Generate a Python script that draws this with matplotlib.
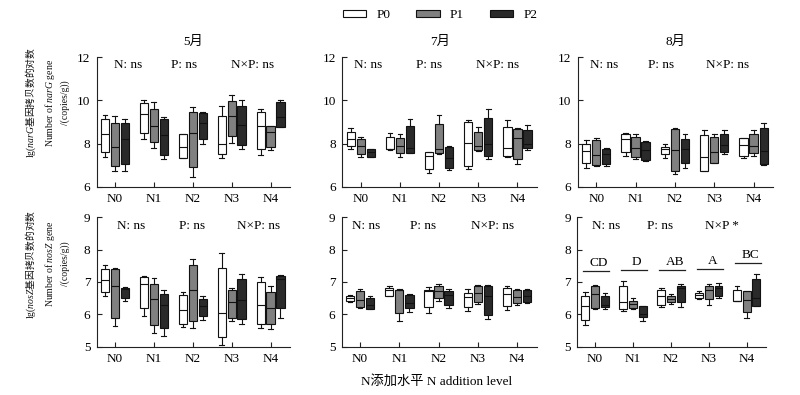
import matplotlib
matplotlib.use("Agg")
import matplotlib.pyplot as plt
from matplotlib.patches import Patch

plt.rcParams['font.family'] = ['Liberation Serif', 'Noto Sans CJK SC']
plt.rcParams['mathtext.fontset'] = 'custom'
plt.rcParams['mathtext.it'] = 'Liberation Serif:italic'
plt.rcParams['mathtext.rm'] = 'Noto Sans CJK SC'

# ---------------- data ----------------
groups = ["N0", "N1", "N2", "N3", "N4"]
p_levels = ["P0", "P1", "P2"]
months = ["5月", "7月", "8月"]

# each entry: [whisker low, Q1, median, Q3, whisker high]
narG_may_P0 = [[7.39, 7.60, 8.46, 9.16, 9.33], [8.21, 8.48, 9.36, 9.87, 10.00], [7.32, 7.33, 7.86, 8.44, 8.45], [7.33, 7.50, 7.97, 9.28, 9.76], [7.46, 7.73, 8.82, 9.48, 9.62]]
narG_may_P1 = [[6.74, 6.98, 7.83, 8.94, 9.30], [7.78, 8.06, 8.83, 9.62, 9.91], [6.47, 6.93, 8.48, 9.45, 9.71], [8.01, 8.35, 9.28, 9.98, 10.24], [7.69, 7.86, 8.52, 8.82, 8.83]]
narG_may_P2 = [[6.71, 7.05, 8.23, 8.97, 9.14], [7.29, 7.47, 8.38, 9.13, 9.25], [7.98, 8.20, 8.97, 9.40, 9.45], [7.73, 7.95, 8.85, 9.76, 10.00], [8.76, 8.76, 9.22, 9.91, 10.02]]

narG_jul_P0 = [[7.75, 7.89, 8.21, 8.55, 8.71], [7.72, 7.73, 7.76, 8.29, 8.51], [6.62, 6.80, 7.44, 7.59, 7.60], [6.80, 6.96, 8.01, 9.02, 9.09], [7.36, 7.42, 7.78, 8.78, 9.09]]
narG_jul_P1 = [[7.36, 7.52, 7.87, 8.20, 8.32], [7.39, 7.55, 7.87, 8.26, 8.43], [7.52, 7.55, 7.73, 8.91, 9.32], [7.66, 7.70, 7.89, 8.55, 8.75], [7.05, 7.28, 8.24, 8.66, 8.71]]
narG_jul_P2 = [[7.36, 7.39, 7.62, 7.75, 7.77], [7.56, 7.58, 7.78, 8.80, 9.14], [6.77, 6.85, 7.35, 7.83, 7.89], [7.27, 7.44, 7.98, 9.20, 9.59], [7.70, 7.78, 7.98, 8.63, 8.85]]

narG_aug_P0 = [[6.86, 7.08, 7.66, 8.00, 8.15], [7.43, 7.63, 8.20, 8.46, 8.51], [7.35, 7.51, 7.74, 7.85, 8.00], [6.71, 6.74, 7.38, 8.38, 8.62], [7.32, 7.43, 7.94, 8.25, 8.28]]
narG_aug_P1 = [[6.97, 7.00, 7.48, 8.15, 8.28], [7.29, 7.38, 7.78, 8.31, 8.43], [6.58, 6.71, 7.69, 8.66, 8.71], [7.09, 7.12, 7.62, 8.32, 8.46], [7.43, 7.54, 7.89, 8.43, 8.62]]
narG_aug_P2 = [[6.95, 7.05, 7.51, 7.74, 7.78], [7.20, 7.25, 7.71, 8.06, 8.12], [6.86, 7.09, 7.74, 8.23, 8.43], [7.51, 7.62, 7.94, 8.43, 8.62], [7.00, 7.05, 7.66, 8.71, 8.97]]

nosZ_may_P0 = [[6.58, 6.68, 7.06, 7.41, 7.52], [5.96, 6.19, 6.95, 7.15, 7.18], [5.60, 5.70, 6.14, 6.59, 6.68], [5.05, 5.29, 6.04, 7.44, 7.91], [5.57, 5.71, 6.29, 6.99, 7.16]]
nosZ_may_P1 = [[5.64, 5.88, 6.89, 7.41, 7.44], [5.42, 5.68, 6.48, 6.95, 7.11], [5.57, 5.78, 6.75, 7.52, 7.70], [5.78, 5.90, 6.38, 6.74, 6.82], [5.54, 5.71, 6.19, 6.69, 6.87]]
nosZ_may_P2 = [[6.40, 6.49, 6.78, 6.82, 6.84], [5.33, 5.57, 6.29, 6.63, 6.75], [5.81, 5.94, 6.25, 6.48, 6.56], [5.70, 5.85, 6.45, 7.08, 7.25], [5.90, 6.19, 7.08, 7.18, 7.20]]

nosZ_jul_P0 = [[6.38, 6.42, 6.50, 6.56, 6.59], [6.56, 6.57, 6.74, 6.82, 6.87], [6.03, 6.21, 6.72, 6.76, 6.83], [6.10, 6.21, 6.54, 6.66, 6.79], [6.13, 6.25, 6.62, 6.82, 6.89]]
nosZ_jul_P1 = [[6.18, 6.21, 6.44, 6.72, 6.79], [5.80, 6.05, 6.74, 6.76, 6.77], [6.41, 6.49, 6.72, 6.87, 6.93], [6.31, 6.38, 6.66, 6.87, 6.90], [6.28, 6.35, 6.54, 6.76, 6.79]]
nosZ_jul_P2 = [[6.15, 6.16, 6.30, 6.51, 6.57], [6.08, 6.20, 6.35, 6.61, 6.64], [6.18, 6.28, 6.59, 6.72, 6.79], [5.84, 5.99, 6.57, 6.87, 6.90], [6.36, 6.38, 6.56, 6.74, 6.79]]

nosZ_aug_P0 = [[5.66, 5.82, 6.25, 6.57, 6.70], [6.11, 6.16, 6.38, 6.86, 7.02], [6.23, 6.30, 6.55, 6.75, 6.80], [6.48, 6.49, 6.59, 6.67, 6.71], [6.40, 6.41, 6.42, 6.76, 6.89]]
nosZ_aug_P1 = [[6.16, 6.19, 6.62, 6.89, 6.92], [6.17, 6.19, 6.33, 6.41, 6.49], [6.32, 6.38, 6.48, 6.57, 6.64], [6.29, 6.46, 6.76, 6.86, 6.94], [5.87, 6.06, 6.43, 6.73, 6.73]]
nosZ_aug_P2 = [[6.17, 6.23, 6.30, 6.57, 6.65], [5.80, 5.91, 6.00, 6.25, 6.25], [6.23, 6.38, 6.80, 6.89, 6.94], [6.50, 6.57, 6.81, 6.87, 6.96], [6.25, 6.27, 6.51, 7.10, 7.24]]

stat_labels = ["N: ns", "P: ns", "N×P: ns"]
stat_labels_nosZ_aug = ["N: ns", "P: ns", "N×P *"]
letters_nosZ_aug = ["CD", "D", "AB", "A", "BC"]
letter_line_y = [7.35, 7.37, 7.37, 7.40, 7.60]

narG_yticks = [6, 8, 10, 12]
nosZ_yticks = [5, 6, 7, 8, 9]

# ---------------- style ----------------
face_colors = ["#ffffff", "#808080", "#2a2a2a"]
offsets = [-0.255, 0.0, 0.255]
box_w = 0.21
FS = 9.5

W, H = 800, 395
fig = plt.figure(figsize=(W / 100, H / 100), dpi=100)


def px_axes(x0, x1, ytop, ybot):
    return fig.add_axes([x0 / W, 1 - ybot / H, (x1 - x0) / W, (ybot - ytop) / H])


panels = [
    ([narG_may_P0, narG_may_P1, narG_may_P2], narG_yticks, (6, 12), (96.5, 290, 57.3, 186.7), [0.33, 1.77, 3.54], stat_labels, months[0]),
    ([narG_jul_P0, narG_jul_P1, narG_jul_P2], narG_yticks, (6, 12), (342.3, 537, 57.3, 186.7), [0.2, 1.74, 3.5], stat_labels, months[1]),
    ([narG_aug_P0, narG_aug_P1, narG_aug_P2], narG_yticks, (6, 12), (577.7, 773.3, 57.3, 186.7), [0.19, 1.64, 3.33], stat_labels, months[2]),
    ([nosZ_may_P0, nosZ_may_P1, nosZ_may_P2], nosZ_yticks, (5, 9), (96.7, 290, 217.3, 346.6), [0.42, 1.97, 3.69], stat_labels, None),
    ([nosZ_jul_P0, nosZ_jul_P1, nosZ_jul_P2], nosZ_yticks, (5, 9), (341.7, 536.7, 217.3, 346.6), [0.15, 1.6, 3.37], stat_labels, None),
    ([nosZ_aug_P0, nosZ_aug_P1, nosZ_aug_P2], nosZ_yticks, (5, 9), (577.3, 765.7, 217.3, 346.6), [0.29, 1.72, 3.35], stat_labels_nosZ_aug, None),
]

axes = []
for series, yticks, ylim, rect, sx, slabels, title in panels:
    ax = px_axes(*rect)
    axes.append(ax)
    for k, data in enumerate(series):
        stats = [dict(whislo=d[0], q1=d[1], med=d[2], q3=d[3], whishi=d[4], fliers=[]) for d in data]
        pos = [i + offsets[k] for i in range(len(groups))]
        ax.bxp(stats, positions=pos, widths=box_w, patch_artist=True, showfliers=False,
               capwidths=0.12,
               boxprops=dict(facecolor=face_colors[k], edgecolor="#111111", linewidth=0.8),
               medianprops=dict(color="#111111", linewidth=0.8),
               whiskerprops=dict(color="#111111", linewidth=0.8),
               capprops=dict(color="#111111", linewidth=0.8),
               manage_ticks=False)
    ax.set_xlim(-0.47, 4.5)
    ax.set_ylim(*ylim)
    ax.set_yticks(yticks)
    ax.set_xticks(range(len(groups)))
    ax.set_xticklabels(groups)
    for s in ["top", "right"]:
        ax.spines[s].set_visible(False)
    for s in ["left", "bottom"]:
        ax.spines[s].set_linewidth(0.8)
        ax.spines[s].set_color("#222222")
    ax.tick_params(direction="in", length=3.5, width=0.8, color="#222222",
                   labelsize=FS, pad=4.5)
    yt = 0.94 if ylim[1] == 12 else 0.93
    for x, lab in zip(sx, slabels):
        ax.text(x, yt, lab, transform=ax.get_xaxis_transform(), ha="center", va="center", fontsize=FS)
    if title:
        ax.set_title(title, fontsize=FS, pad=9)

# significance letters on August nosZ panel
ax = axes[5]
for i, (lab, ly) in enumerate(zip(letters_nosZ_aug, letter_line_y)):
    ax.plot([i - 0.32, i + 0.37], [ly, ly], color="#222222", lw=0.9)
    ax.text(i + 0.1, ly + 0.05, lab, ha="center", va="bottom", fontsize=FS)

# y labels
ylab_narG = "lg($\\mathit{narG}\\mathrm{基因拷贝数的对数}$\nNumber of $\\mathit{narG}$ gene\n/(copies/g))"
ylab_nosZ = "lg($\\mathit{nosZ}\\mathrm{基因拷贝数的对数}$\nNumber of $\\mathit{nosZ}$ gene\n/(copies/g))"
fig.text(47 / W, 1 - 103 / H, ylab_narG, rotation=90, ha="center", va="center",
         multialignment="center", fontsize=7.0, linespacing=1.5, color="#111111")
fig.text(47 / W, 1 - 264 / H, ylab_nosZ, rotation=90, ha="center", va="center",
         multialignment="center", fontsize=7.0, linespacing=1.5, color="#111111")

# x label
fig.text(437 / W, 1 - 381 / H, "N添加水平 N addition level", ha="center", va="center", fontsize=FS)

# legend
handles = [Patch(facecolor=c, edgecolor="#111111", linewidth=0.8) for c in face_colors]
fig.legend(handles, p_levels, loc="center", bbox_to_anchor=(440 / W, 1 - 15.5 / H), ncol=3,
           frameon=False, fontsize=FS, handlelength=1.8, handleheight=0.45,
           handletextpad=0.75, columnspacing=1.95)

fig.savefig("out.png", dpi=100)
